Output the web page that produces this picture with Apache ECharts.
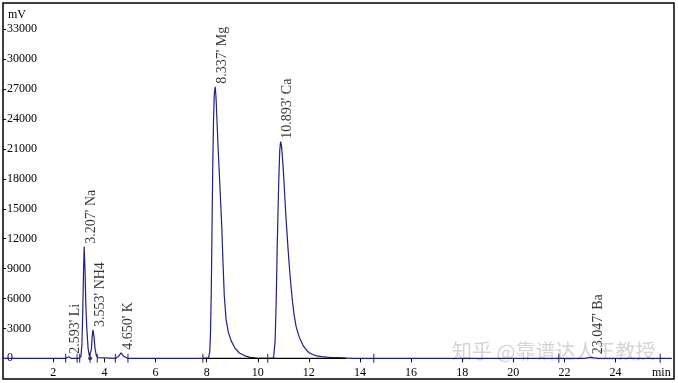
<!DOCTYPE html>
<html>
<head>
<meta charset="utf-8">
<script src="https://cdn.jsdelivr.net/npm/echarts@6/dist/echarts.min.js"></script>
<style>html,body{margin:0;padding:0;background:#fff}#c{width:678px;height:383px}</style>
</head>
<body>
<div id="c"></div>
<script>
// retention time (min) and signal (mV)
var times = [0, 2.40, 2.50, 2.56, 2.593, 2.63, 2.70, 3.00, 3.08, 3.12, 3.15, 3.18, 3.207, 3.24, 3.27, 3.31, 3.36, 3.41, 3.44, 3.49, 3.52, 3.553, 3.59, 3.63, 3.68, 3.74, 3.80, 4.45, 4.55, 4.65, 4.75, 4.90, 7.90, 8.07, 8.12, 8.15, 8.18, 8.21, 8.24, 8.27, 8.30, 8.337, 8.37, 8.41, 8.45, 8.52, 8.59, 8.64, 8.69, 8.76, 8.85, 8.96, 9.10, 9.28, 9.50, 9.70, 9.93, 10.20, 10.50, 10.62, 10.68, 10.72, 10.76, 10.80, 10.83, 10.86, 10.893, 10.93, 10.96, 11.00, 11.04, 11.10, 11.19, 11.27, 11.35, 11.42, 11.50, 11.60, 11.68, 11.76, 11.85, 12.00, 12.15, 12.30, 12.50, 12.70, 12.90, 13.10, 13.30, 13.50, 13.70, 22.80, 23.047, 23.30, 26.2];
var signal = [0, 0, 0, 70, 150, 60, 0, 0, 150, 1500, 4500, 8500, 11200, 8800, 5500, 3000, 1000, 250, 180, 900, 2200, 2850, 2200, 1000, 300, 60, 0, 0, 200, 550, 200, 0, 0, 50, 600, 2500, 6500, 13000, 19500, 24000, 26600, 27240, 26000, 23500, 21000, 17200, 13300, 9600, 6300, 3900, 2600, 1750, 1050, 530, 250, 100, 20, 0, 0, 50, 1800, 5500, 11000, 15500, 18500, 20800, 21730, 21300, 20400, 18900, 17100, 14300, 10800, 8100, 5900, 4400, 3200, 2300, 1800, 1350, 1000, 580, 380, 250, 170, 120, 80, 60, 40, 20, 0, 0, 100, 0, 0];

var peakTimes = [2.593, 3.207, 3.553, 4.650, 8.337, 10.893, 23.047];
var peakHeights = [150, 11200, 2850, 550, 27240, 21730, 100];
var peakNames = ['Li', 'Na', 'NH4', 'K', 'Mg', 'Ca', 'Ba'];

var markerTimes = [2.48, 2.93, 3.03, 3.44, 3.72, 4.43, 4.92, 7.85, 10.39, 14.54, 21.78, 25.75];
var valleyTimes = [3.44];
var baselineStart = 7.85, baselineEnd = 13.45;

var xTicks = [2, 4, 6, 8, 10, 12, 14, 16, 18, 20, 22, 24];
var yTicks = [0, 3000, 6000, 9000, 12000, 15000, 18000, 21000, 24000, 27000, 30000, 33000];

var FONT = '"Liberation Serif", "Times New Roman", serif';
var NAVY = '#1f1f86';

var chart = echarts.init(document.getElementById('c'), null, {renderer: 'canvas'});

var lineData = times.map(function (t, i) { return [t, signal[i]]; });
var peakData = peakTimes.map(function (t, i) { return {value: [t, peakHeights[i]], name: peakNames[i]}; });

chart.setOption({
  animation: false,
  backgroundColor: '#fff',
  grid: {left: 3, right: 4, top: 3, bottom: 4, show: true, borderColor: '#000', borderWidth: 1.5, backgroundColor: 'transparent'},
  xAxis: {
    type: 'value', min: 0.03, max: 26.29, offset: -13,
    name: 'min', nameLocation: 'end', nameGap: -22,
    nameTextStyle: {fontFamily: FONT, fontSize: 12, color: '#000', align: 'left', verticalAlign: 'top', padding: [9, 0, 0, 0]},
    axisLine: {show: false},
    axisTick: {show: true, customValues: xTicks, length: 4, lineStyle: {color: '#000'}},
    axisLabel: {customValues: xTicks, margin: 1, fontFamily: FONT, fontSize: 12, color: '#000'},
    splitLine: {show: false}
  },
  yAxis: {
    type: 'value', min: -2076, max: 35637,
    name: 'mV', nameLocation: 'end', nameGap: -18,
    nameTextStyle: {fontFamily: FONT, fontSize: 12, color: '#000', align: 'left', padding: [0, 0, 0, 5]},
    axisLine: {show: false},
    axisTick: {show: true, inside: true, customValues: yTicks, length: 3, lineStyle: {color: '#000'}},
    axisLabel: {inside: true, customValues: yTicks, margin: 4, fontFamily: FONT, fontSize: 12, color: '#000', align: 'left',
      formatter: function (v) { return String(v); }},
    splitLine: {show: false}
  },
  graphic: [{
    type: 'text', left: 452, top: 341, silent: true,
    style: {text: '知乎 @靠谱达人王教授', fontFamily: '"Noto Sans CJK SC", sans-serif', fontSize: 20, fill: 'rgba(170,170,170,0.5)'}
  }],
  series: [
    {
      type: 'line', data: lineData, symbol: 'none', z: 2,
      lineStyle: {color: NAVY, width: 1.2}
    },
    {
      type: 'line', data: [[baselineStart, 0], [baselineEnd, 0]], symbol: 'none', z: 3,
      lineStyle: {color: '#000', width: 1.2}
    },
    {
      type: 'scatter', data: markerTimes.map(function (t) { return [t, 0]; }),
      symbol: 'rect', symbolSize: [1.2, 9], z: 4,
      itemStyle: {color: '#1a1a50'}
    },
    {
      type: 'scatter', data: valleyTimes.map(function (t) { return [t, 0]; }),
      symbol: 'circle', symbolSize: 4, z: 4,
      itemStyle: {color: '#1a1a50'}
    },
    {
      type: 'scatter', data: peakData, symbolSize: 0, z: 5,
      label: {
        show: true, position: 'top', distance: 3, rotate: 90,
        align: 'left', verticalAlign: 'middle', offset: [0, 7],
        fontFamily: FONT, fontSize: 14, color: '#000',
        formatter: function (p) { return p.value[0].toFixed(3) + "' " + p.name; }
      }
    }
  ]
});
</script>
</body>
</html>
